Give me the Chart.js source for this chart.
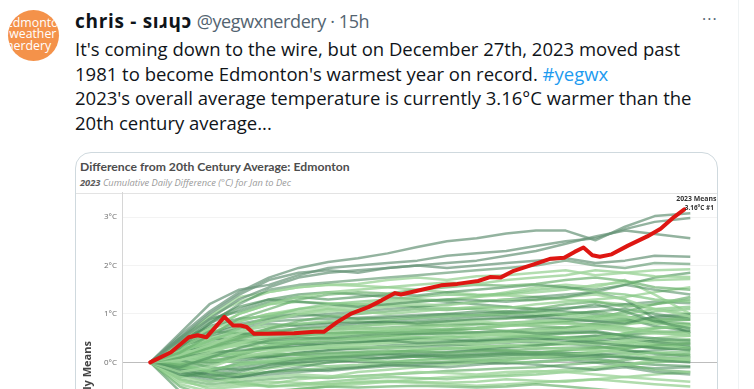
<!DOCTYPE html>
<html>
<head>
<meta charset="utf-8">
<script src="https://cdn.jsdelivr.net/npm/chart.js@4.4.1/dist/chart.umd.min.js"></script>
<style>
  html, body { margin: 0; padding: 0; background: #fff; overflow: hidden; }
  body { width: 754px; height: 389px; position: relative; font-family: "Open Sans", "Noto Sans", sans-serif; color: #0f1419; }
  .rule { position: absolute; left: 738px; top: 0; width: 1px; height: 389px; background: #eff3f4; }
  .avatar { position: absolute; left: 8px; top: 10px; width: 51px; height: 51px; border-radius: 50%; background: #f4924a; overflow: hidden; }
  .avatar div { position: absolute; left: -2px; top: 7px; color: #fff; font: 12.3px/11.3px "Open Sans", sans-serif; white-space: nowrap; }
  .head { position: absolute; left: 75px; top: 8px; font-size: 18px; white-space: nowrap; }
  .head b { font-size: 19px; font-weight: 700; letter-spacing: 0.7px; }
  .head span { color: #536471; letter-spacing: -0.4px; }
  .dots { position: absolute; left: 702px; top: 8px; color: #536471; font-size: 16px; letter-spacing: 1px; }
  .text { position: absolute; left: 75px; top: 37px; font-size: 18.5px; line-height: 24.5px; white-space: nowrap; }
  .text a { color: #1d9bf0; text-decoration: none; }
  .card { position: absolute; left: 75px; top: 152px; width: 641px; height: 440px; border: 1px solid #cfd9de; border-radius: 16px; overflow: hidden; }
  .ctitle { position: absolute; left: 4px; top: 6px; font: 700 12.2px Lato, sans-serif; color: #4d4d4d; white-space: nowrap; }
  .csub { position: absolute; left: 4px; top: 23px; font: italic 9.3px "Open Sans", sans-serif; color: #9a9a9a; white-space: nowrap; }
  .csub b { color: #5a5a5a; }
  .sep { position: absolute; left: 0; top: 40px; width: 641px; height: 1px; background: #e3e3e3; }
  .plot { position: absolute; left: 0; top: 30px; width: 641px; height: 383px; }
</style>
</head>
<body>
<div class="rule"></div>
<div class="avatar"><div>Edmonton<br>&nbsp;weather<br>nerdery</div></div>
<div class="head"><b>chris - sıɹɥɔ</b> <span>@yegwxnerdery · 15h</span></div>
<div class="dots">···</div>
<div class="text">It's coming down to the wire, but on December 27th, 2023 moved past<br>1981 to become Edmonton's warmest year on record. <a>#yegwx</a><br>2023's overall average temperature is currently 3.16°C warmer than the<br>20th century average...</div>
<div class="card">
  <div class="ctitle">Difference from 20th Century Average: Edmonton</div>
  <div class="csub"><b>2023</b> Cumulative Daily Difference (°C) for Jan to Dec</div>
  <div class="sep"></div>
  <div class="plot"><canvas id="chart"></canvas></div>
</div>
<script>
// day of year (0 = Jan 1) for the 2023 line
const days2023 = [0, 14, 26, 32, 38, 50, 56, 61, 65, 70, 79, 97, 111, 117, 126, 135, 147, 156, 165, 169, 183, 196, 207, 221, 229, 236, 245, 259, 270, 279, 286, 292, 298, 303, 311, 322, 335, 344, 353, 360]
const means2023 = [0, 0.21, 0.52, 0.56, 0.52, 0.94, 0.76, 0.76, 0.73, 0.59, 0.59, 0.60, 0.63, 0.63, 0.83, 1.0, 1.14, 1.28, 1.43, 1.40, 1.50, 1.59, 1.62, 1.68, 1.76, 1.75, 1.89, 2.03, 2.14, 2.16, 2.28, 2.37, 2.21, 2.18, 2.23, 2.41, 2.60, 2.76, 3.0, 3.16]

// day of year for the other years
const daysPast = [0, 20, 40, 60, 80, 100, 120, 140, 160, 180, 200, 220, 240, 260, 280, 300, 320, 340, 364]
const g01 = [0, 0.55, 1.05, 1.45, 1.75, 1.95, 2.07, 2.15, 2.25, 2.38, 2.5, 2.56, 2.66, 2.72, 2.72, 2.52, 2.8, 3.02, 3.08]
const g02 = [0, 0.6, 1.2, 1.5, 1.6, 1.8, 1.95, 2.0, 2.05, 2.1, 2.2, 2.25, 2.3, 2.4, 2.5, 2.56, 2.75, 2.9, 2.98]
const g03 = [0, 0.45, 0.9, 1.3, 1.55, 1.75, 1.85, 1.9, 1.95, 2.0, 2.05, 2.1, 2.2, 2.3, 2.45, 2.6, 2.72, 2.65, 2.56]
const g04 = [0, 0.5, 1.0, 1.4, 1.7, 1.85, 1.9, 1.85, 1.95, 2.0, 1.95, 2.0, 2.05, 2.1, 2.15, 2.05, 2.1, 2.2, 2.18]
const g05 = [0, 0.3, 0.8, 1.2, 1.5, 1.6, 1.65, 1.7, 1.75, 1.8, 1.85, 1.9, 1.95, 2.0, 2.1, 2.0, 1.95, 2.05, 2.03]
const g06 = [0, 0.4, 0.95, 1.35, 1.45, 1.55, 1.6, 1.62, 1.7, 1.75, 1.7, 1.78, 1.8, 1.85, 1.9, 1.8, 1.85, 1.9, 1.92]
const g07 = [0, 0.35, 0.7, 1.0, 1.2, 1.35, 1.45, 1.5, 1.55, 1.6, 1.65, 1.62, 1.7, 1.75, 1.8, 1.9, 1.85, 1.78, 1.76]
const g08 = [0, 0.2, 0.55, 0.9, 1.1, 1.3, 1.4, 1.45, 1.42, 1.5, 1.55, 1.6, 1.58, 1.62, 1.7, 1.75, 1.68, 1.55, 1.5]
const g09 = [0, 0.5, 0.9, 1.05, 1.25, 1.35, 1.3, 1.35, 1.4, 1.38, 1.45, 1.5, 1.55, 1.6, 1.55, 1.5, 1.6, 1.75, 1.85]
const g10 = [0, 0.25, 0.45, 0.7, 0.95, 1.1, 1.2, 1.25, 1.3, 1.35, 1.4, 1.38, 1.42, 1.5, 1.55, 1.45, 1.4, 1.3, 1.25]
const g11 = [0, 0.4, 0.8, 1.1, 1.3, 1.25, 1.2, 1.15, 1.2, 1.25, 1.3, 1.28, 1.25, 1.3, 1.35, 1.45, 1.6, 1.5, 1.4]
const g12 = [0, 0.15, 0.35, 0.6, 0.85, 1.0, 1.05, 1.1, 1.15, 1.2, 1.18, 1.25, 1.3, 1.28, 1.35, 1.4, 1.3, 1.1, 0.95]
const g13 = [0, 0.3, 0.6, 0.85, 1.0, 1.05, 1.1, 1.05, 1.0, 1.05, 1.1, 1.15, 1.12, 1.2, 1.25, 1.3, 1.35, 1.45, 1.55]
const g14 = [0, 0.1, 0.3, 0.5, 0.7, 0.85, 0.95, 1.0, 1.05, 1.1, 1.08, 1.12, 1.15, 1.1, 1.2, 1.25, 1.15, 1.2, 1.3]
const g15 = [0, 0.45, 0.75, 0.9, 0.95, 1.0, 0.95, 0.9, 0.92, 0.95, 1.0, 1.05, 1.02, 1.05, 1.1, 1.2, 1.05, 0.85, 0.7]
const g16 = [0, 0.2, 0.45, 0.65, 0.75, 0.8, 0.85, 0.9, 0.88, 0.92, 0.95, 0.98, 1.0, 1.05, 1.0, 0.95, 1.0, 1.1, 1.15]
const g17 = [0, 0.35, 0.55, 0.7, 0.8, 0.75, 0.8, 0.82, 0.85, 0.8, 0.85, 0.9, 0.92, 0.95, 0.9, 0.85, 0.8, 0.95, 1.0]
const g18 = [0, 0.05, 0.2, 0.4, 0.55, 0.65, 0.7, 0.75, 0.78, 0.8, 0.82, 0.85, 0.8, 0.85, 0.88, 0.9, 0.95, 0.8, 0.75]
const g19 = [0, 0.25, 0.4, 0.5, 0.55, 0.6, 0.65, 0.7, 0.68, 0.72, 0.75, 0.7, 0.75, 0.78, 0.8, 0.75, 0.7, 0.65, 0.6]
const g20 = [0, 0.15, 0.3, 0.45, 0.5, 0.55, 0.6, 0.62, 0.6, 0.65, 0.68, 0.7, 0.65, 0.7, 0.72, 0.8, 0.85, 0.9, 0.88]
const g21 = [0, -0.1, 0.1, 0.3, 0.45, 0.5, 0.5, 0.55, 0.6, 0.58, 0.6, 0.62, 0.65, 0.6, 0.62, 0.65, 0.55, 0.5, 0.45]
const g22 = [0, 0.3, 0.35, 0.4, 0.42, 0.45, 0.5, 0.48, 0.5, 0.52, 0.55, 0.5, 0.52, 0.55, 0.5, 0.48, 0.6, 0.7, 0.75]
const g23 = [0, 0.1, 0.2, 0.25, 0.3, 0.35, 0.4, 0.42, 0.45, 0.4, 0.42, 0.45, 0.48, 0.5, 0.45, 0.4, 0.35, 0.3, 0.25]
const g24 = [0, -0.2, -0.1, 0.1, 0.2, 0.3, 0.35, 0.38, 0.4, 0.42, 0.4, 0.38, 0.42, 0.45, 0.4, 0.38, 0.45, 0.5, 0.55]
const g25 = [0, 0.2, 0.25, 0.22, 0.25, 0.28, 0.3, 0.32, 0.3, 0.28, 0.3, 0.32, 0.35, 0.3, 0.28, 0.25, 0.2, 0.1, 0.05]
const g26 = [0, -0.05, 0.05, 0.1, 0.15, 0.18, 0.2, 0.22, 0.25, 0.22, 0.2, 0.22, 0.25, 0.28, 0.3, 0.32, 0.28, 0.35, 0.4]
const g27 = [0, -0.25, -0.3, -0.2, -0.05, 0.05, 0.1, 0.12, 0.15, 0.12, 0.1, 0.12, 0.15, 0.18, 0.15, 0.12, 0.1, 0.05, 0.0]
const g28 = [0, 0.1, 0.05, 0.0, 0.02, 0.05, 0.08, 0.05, 0.02, 0.05, 0.08, 0.05, 0.02, 0.0, 0.05, 0.1, 0.15, 0.2, 0.22]
const g29 = [0, -0.15, -0.25, -0.3, -0.25, -0.2, -0.15, -0.1, -0.05, -0.08, -0.1, -0.05, 0.0, -0.05, -0.1, -0.15, -0.1, -0.2, -0.25]
const g30 = [0, -0.3, -0.4, -0.35, -0.3, -0.25, -0.28, -0.3, -0.25, -0.2, -0.22, -0.25, -0.2, -0.18, -0.2, -0.25, -0.3, -0.35, -0.4]
const g31 = [0, -0.4, -0.5, -0.45, -0.4, -0.42, -0.45, -0.4, -0.38, -0.4, -0.42, -0.4, -0.35, -0.38, -0.4, -0.35, -0.3, -0.25, -0.2]
const g32 = [0, -0.5, -0.7, -0.65, -0.6, -0.55, -0.5, -0.52, -0.5, -0.48, -0.5, -0.52, -0.5, -0.45, -0.5, -0.55, -0.6, -0.65, -0.7]
const g33 = [0, -0.6, -0.9, -1.0, -0.9, -0.8, -0.75, -0.7, -0.72, -0.7, -0.68, -0.7, -0.72, -0.75, -0.7, -0.65, -0.7, -0.75, -0.8]
const g34 = [0, 0.0, -0.2, -0.4, -0.5, -0.45, -0.4, -0.35, -0.3, -0.32, -0.35, -0.3, -0.28, -0.25, -0.2, -0.15, -0.05, 0.0, 0.05]
const g35 = [0, 0.3, 0.6, 0.8, 0.9, 0.95, 1.0, 1.05, 1.1, 1.15, 1.2, 1.25, 1.3, 1.35, 1.4, 1.45, 1.3, 0.9, 0.6]
const g36 = [0, 0.2, 0.5, 0.75, 0.9, 1.0, 1.1, 1.15, 1.2, 1.25, 1.3, 1.35, 1.45, 1.55, 1.6, 1.55, 1.7, 1.4, 1.0]
const g37 = [0, 0.5, 0.7, 0.85, 1.0, 1.1, 1.15, 1.2, 1.25, 1.3, 1.28, 1.35, 1.4, 1.45, 1.5, 1.6, 1.65, 1.7, 1.72]
const g38 = [0, -0.1, 0.0, 0.15, 0.3, 0.4, 0.45, 0.5, 0.55, 0.6, 0.65, 0.7, 0.75, 0.8, 0.85, 0.9, 1.05, 1.2, 1.35]
const g39 = [0, 0.4, 0.65, 0.6, 0.55, 0.6, 0.7, 0.75, 0.8, 0.85, 0.9, 0.95, 1.0, 0.95, 1.0, 1.05, 1.1, 1.0, 0.9]
const g40 = [0, 0.15, 0.1, 0.2, 0.35, 0.45, 0.55, 0.6, 0.65, 0.7, 0.68, 0.72, 0.78, 0.82, 0.85, 0.95, 0.9, 1.05, 1.1]
const g41 = [0, -0.2, -0.35, -0.3, -0.2, -0.1, 0.0, 0.05, 0.1, 0.15, 0.2, 0.25, 0.3, 0.35, 0.4, 0.45, 0.5, 0.42, 0.35]
const g42 = [0, 0.25, 0.2, 0.15, 0.2, 0.25, 0.3, 0.35, 0.4, 0.45, 0.5, 0.55, 0.6, 0.65, 0.7, 0.72, 0.65, 0.6, 0.55]
const g43 = [0, -0.35, -0.55, -0.5, -0.45, -0.35, -0.3, -0.2, -0.15, -0.1, -0.05, 0.0, 0.05, 0.1, 0.15, 0.2, 0.3, 0.4, 0.45]
const g44 = [0, 0.1, 0.35, 0.55, 0.65, 0.7, 0.72, 0.75, 0.8, 0.82, 0.85, 0.88, 0.9, 0.95, 1.0, 1.05, 0.95, 0.85, 0.8]
const g45 = [0, 0.35, 0.5, 0.45, 0.4, 0.38, 0.35, 0.4, 0.45, 0.5, 0.48, 0.45, 0.5, 0.55, 0.6, 0.62, 0.55, 0.45, 0.4]
const g46 = [0, -0.1, -0.15, -0.05, 0.05, 0.1, 0.15, 0.2, 0.22, 0.25, 0.28, 0.3, 0.35, 0.38, 0.42, 0.5, 0.6, 0.7, 0.78]
const g47 = [0, 0.2, 0.4, 0.5, 0.6, 0.7, 0.75, 0.8, 0.85, 0.9, 0.95, 1.0, 1.05, 1.1, 1.12, 1.15, 1.2, 1.25, 1.22]
const g48 = [0, -0.45, -0.6, -0.7, -0.65, -0.55, -0.5, -0.45, -0.4, -0.35, -0.3, -0.28, -0.25, -0.2, -0.15, -0.1, -0.05, 0.05, 0.1]
const g49 = [0, 0.05, 0.15, 0.3, 0.4, 0.45, 0.5, 0.52, 0.55, 0.58, 0.6, 0.6, 0.62, 0.65, 0.68, 0.7, 0.78, 0.85, 0.95]
const g50 = [0, -0.05, -0.2, -0.25, -0.2, -0.15, -0.12, -0.1, -0.05, 0.0, 0.02, 0.05, 0.08, 0.1, 0.08, 0.05, -0.05, -0.15, -0.2]
const g51 = [0, 0.45, 0.85, 1.15, 1.3, 1.4, 1.45, 1.4, 1.35, 1.3, 1.25, 1.2, 1.15, 1.1, 1.05, 1.0, 0.9, 0.75, 0.65]
const g52 = [0, 0.3, 0.65, 1.0, 1.2, 1.25, 1.22, 1.2, 1.18, 1.15, 1.12, 1.1, 1.05, 1.0, 0.95, 0.9, 0.85, 0.8, 0.78]
const g53 = [0, -0.3, -0.2, 0.0, 0.1, 0.2, 0.25, 0.28, 0.3, 0.32, 0.35, 0.38, 0.4, 0.45, 0.5, 0.55, 0.58, 0.62, 0.65]
const g54 = [0, 0.15, 0.25, 0.35, 0.45, 0.55, 0.6, 0.65, 0.7, 0.68, 0.65, 0.62, 0.6, 0.58, 0.6, 0.62, 0.5, 0.35, 0.25]
const g55 = [0, 0.5, 0.95, 1.25, 1.45, 1.55, 1.6, 1.58, 1.55, 1.5, 1.45, 1.4, 1.38, 1.35, 1.3, 1.25, 1.2, 1.1, 1.0]
const g56 = [0, -0.15, -0.05, 0.1, 0.2, 0.15, 0.1, 0.15, 0.2, 0.25, 0.3, 0.28, 0.25, 0.2, 0.25, 0.3, 0.35, 0.3, 0.28]
const g57 = [0, 0.05, -0.1, -0.15, -0.1, 0.0, 0.05, 0.1, 0.08, 0.12, 0.15, 0.18, 0.2, 0.22, 0.2, 0.18, 0.12, 0.08, 0.1]
const g58 = [0, 0.2, 0.3, 0.35, 0.3, 0.32, 0.38, 0.42, 0.45, 0.48, 0.45, 0.42, 0.45, 0.48, 0.52, 0.55, 0.45, 0.38, 0.32]
const g59 = [0, -0.25, -0.4, -0.3, -0.2, -0.15, -0.18, -0.12, -0.08, -0.05, -0.02, 0.0, -0.03, 0.02, 0.05, 0.0, -0.08, -0.12, -0.1]
const g60 = [0, 0.1, 0.25, 0.4, 0.48, 0.52, 0.55, 0.58, 0.55, 0.52, 0.5, 0.55, 0.58, 0.62, 0.66, 0.7, 0.68, 0.72, 0.7]
const g61 = [0, -0.05, 0.1, 0.2, 0.28, 0.32, 0.3, 0.28, 0.32, 0.35, 0.38, 0.35, 0.32, 0.35, 0.38, 0.42, 0.4, 0.45, 0.48]
const g62 = [0, -0.35, -0.45, -0.4, -0.35, -0.3, -0.32, -0.28, -0.25, -0.22, -0.18, -0.15, -0.12, -0.1, -0.05, 0.0, 0.05, 0.12, 0.18]
const g63 = [0, 0.15, 0.15, 0.1, 0.12, 0.15, 0.18, 0.2, 0.18, 0.15, 0.12, 0.15, 0.18, 0.15, 0.12, 0.08, 0.0, -0.05, -0.08]
const g64 = [0, 0.3, 0.5, 0.6, 0.65, 0.62, 0.6, 0.62, 0.65, 0.62, 0.6, 0.58, 0.55, 0.52, 0.5, 0.45, 0.4, 0.35, 0.3]
const g65 = [0, -0.2, -0.25, -0.15, -0.05, 0.0, 0.05, 0.02, 0.0, -0.02, 0.0, 0.02, 0.05, 0.1, 0.12, 0.15, 0.2, 0.25, 0.3]
const g66 = [0, 0.0, 0.1, 0.22, 0.35, 0.4, 0.42, 0.45, 0.48, 0.5, 0.52, 0.55, 0.58, 0.55, 0.52, 0.5, 0.55, 0.6, 0.62]
const g67 = [0, -0.1, -0.3, -0.45, -0.5, -0.48, -0.45, -0.42, -0.4, -0.42, -0.45, -0.48, -0.45, -0.42, -0.38, -0.35, -0.4, -0.45, -0.5]
const g68 = [0, 0.25, 0.45, 0.55, 0.7, 0.78, 0.82, 0.85, 0.82, 0.78, 0.75, 0.78, 0.82, 0.85, 0.82, 0.78, 0.72, 0.62, 0.55]
const g69 = [0, 0.05, 0.0, 0.05, 0.12, 0.2, 0.25, 0.3, 0.35, 0.38, 0.4, 0.42, 0.45, 0.42, 0.38, 0.35, 0.25, 0.18, 0.12]
const g70 = [0, -0.3, -0.15, -0.05, 0.0, -0.05, -0.08, -0.05, 0.0, 0.05, 0.08, 0.1, 0.12, 0.15, 0.18, 0.22, 0.25, 0.2, 0.15]
const g71 = [0, 0.35, 0.6, 0.75, 0.85, 0.88, 0.9, 0.92, 0.95, 0.98, 1.0, 0.98, 0.95, 0.9, 0.88, 0.85, 0.88, 0.92, 0.95]
const g72 = [0, 0.1, 0.2, 0.15, 0.1, 0.08, 0.1, 0.15, 0.2, 0.25, 0.28, 0.3, 0.32, 0.35, 0.38, 0.4, 0.35, 0.3, 0.28]
const g73 = [0, -0.2, -0.3, -0.25, -0.12, -0.05, 0.0, 0.05, 0.1, 0.12, 0.15, 0.15, 0.18, 0.2, 0.25, 0.28, 0.3, 0.35, 0.38]
const g74 = [0, 0.2, 0.35, 0.5, 0.6, 0.65, 0.68, 0.7, 0.72, 0.75, 0.78, 0.8, 0.78, 0.75, 0.72, 0.75, 0.8, 0.85, 0.88]
const g75 = [0, -0.1, -0.2, -0.1, 0.0, 0.08, 0.12, 0.15, 0.18, 0.2, 0.22, 0.25, 0.22, 0.2, 0.18, 0.15, 0.1, 0.05, 0.02]

const pastYears = [g01, g02, g03, g04, g05, g06, g07, g08, g09, g10, g11, g12, g13, g14, g15, g16, g17, g18, g19, g20,
  g21, g22, g23, g24, g25, g26, g27, g28, g29, g30, g31, g32, g33, g34, g35, g36, g37, g38, g39, g40,
  g41, g42, g43, g44, g45, g46, g47, g48, g49, g50, g51, g52, g53, g54, g55, g56, g57, g58, g59, g60,
  g61, g62, g63, g64, g65, g66, g67, g68, g69, g70, g71, g72, g73, g74, g75]

const yTicks = [0, 1, 2, 3]

const greens = [
  'rgba(150, 208, 145, 0.75)',
  'rgba(110, 178, 112, 0.7)',
  'rgba(85, 150, 98, 0.65)',
  'rgba(135, 200, 135, 0.75)',
  'rgba(70, 135, 88, 0.55)',
  'rgba(160, 214, 156, 0.8)'
]

const toPoints = (xs, ys) => xs.map((x, i) => ({ x: x, y: ys[i] }))

const datasets = [{
  data: toPoints(days2023, means2023),
  borderColor: 'rgb(222, 22, 18)',
  borderWidth: 4,
  borderJoinStyle: 'round',
  borderCapStyle: 'round'
}]

pastYears.forEach((vals, i) => {
  datasets.push({
    data: toPoints(daysPast, vals),
    borderColor: i < 4 ? 'rgba(105, 150, 122, 0.72)' : greens[i % greens.length],
    borderWidth: 2.5,
    borderJoinStyle: 'round'
  })
})

const endLabel = {
  id: 'endLabel',
  afterDatasetsDraw(chart) {
    const meta = chart.getDatasetMeta(0)
    const pt = meta.data[meta.data.length - 1]
    const ctx = chart.ctx
    ctx.save()
    ctx.fillStyle = '#333'
    ctx.textAlign = 'center'
    ctx.textBaseline = 'middle'
    ctx.font = 'bold 6.9px "Open Sans", sans-serif'
    ctx.fillText('2023 Means', pt.x + 12, pt.y - 10)
    ctx.font = 'bold 6.4px "Open Sans", sans-serif'
    ctx.fillText(means2023[means2023.length - 1].toFixed(2) + '°C #1', pt.x + 15, pt.y - 1)
    ctx.restore()
  }
}

new Chart(document.getElementById('chart'), {
  type: 'line',
  data: { datasets: datasets },
  plugins: [endLabel],
  options: {
    responsive: true,
    maintainAspectRatio: false,
    animation: false,
    layout: { padding: 0, autoPadding: false },
    elements: { point: { radius: 0 }, line: { tension: 0 } },
    plugins: {
      legend: { display: false },
      tooltip: { enabled: false }
    },
    scales: {
      x: {
        type: 'linear',
        display: false,
        min: -19,
        max: 382
      },
      y: {
        min: -4,
        max: 3.5,
        afterFit(scale) { scale.width = 46 },
        border: { display: true, color: '#d6d6d6' },
        grid: {
          drawTicks: false,
          color: (c) => c.tick.value === 0 ? '#bdbdbd' : (yTicks.includes(c.tick.value) ? '#f3f3f3' : 'rgba(0,0,0,0)')
        },
        ticks: {
          stepSize: 1,
          padding: 5,
          color: '#6b6b6b',
          font: { size: 8, family: '"Open Sans", sans-serif' },
          callback: (v) => Number.isInteger(v) ? v + '°C' : ''
        },
        title: {
          display: true,
          text: 'Daily Means',
          color: '#444',
          padding: { top: 5, bottom: 0 },
          font: { size: 11, weight: 'bold', family: '"Open Sans", sans-serif' }
        }
      }
    }
  }
})
</script>
</body>
</html>
